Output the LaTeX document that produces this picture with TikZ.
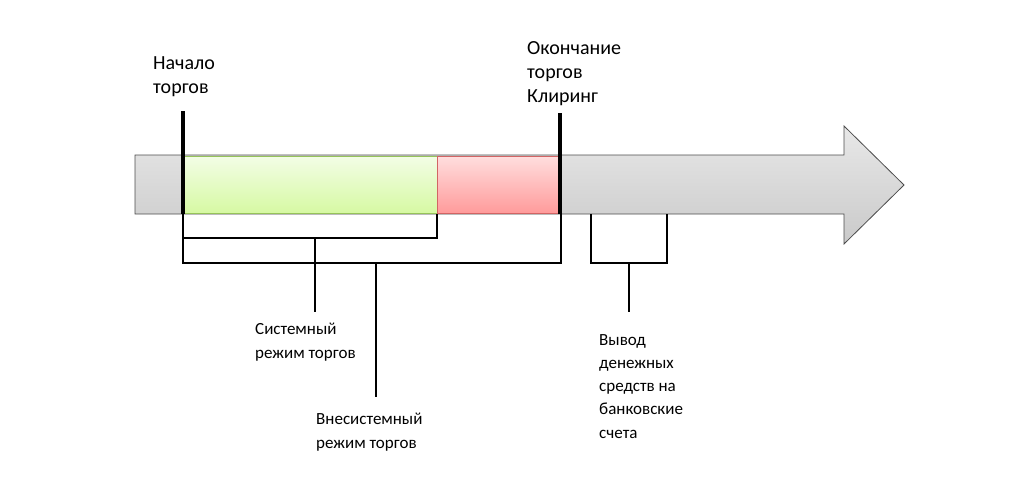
\documentclass[tikz,border=0pt]{standalone}
\usepackage{fontspec}
\setmainfont{Carlito}
\begin{document}
\begin{tikzpicture}[x=1pt,y=-1pt,
        lbl/.style={font=\fontsize{17}{23.2}\selectfont, align=left, anchor=base west, inner sep=0pt},
        big/.style={lbl, font=\fontsize{20}{24}\selectfont},
        brk/.style={line width=1.3pt},
        tick/.style={line width=4pt}]
        \useasboundingbox (0,0) rectangle (1015,477);
        % time arrow
        \shade[top color=gray!18, bottom color=gray!42, draw=gray!60!black, line width=0.8pt]
          (135,155) -- (844,155) -- (844,126) -- (904,185) -- (844,244) -- (844,214) -- (135,214) -- cycle;
        \shade[top color={rgb,255:red,243;green,253;blue,230}, bottom color={rgb,255:red,214;green,249;blue,163},
          draw={rgb,255:red,150;green,195;blue,90}, line width=0.8pt] (183,156) rectangle (437,213);
        \shade[top color={rgb,255:red,255;green,222;blue,222}, bottom color={rgb,255:red,255;green,155;blue,155},
          draw={rgb,255:red,210;green,100;blue,100}, line width=0.8pt] (437,156) rectangle (560,213);
        % labels (anchored at the last line)
        \node[big](start) at (153,93) {Начало\\торгов};
        \node[big](stop) at (527,102) {Окончание\\торгов\\Клиринг};
        \node[lbl](sys) at (255,358) {Системный\\режим торгов};
        \node[lbl](nonsys) at (316,448) {Внесистемный\\режим торгов};
        \node[lbl](out) at (599,438) {Вывод\\денежных\\средств на\\банковские\\счета};
        % brackets
        \coordinate(a1) at (183,214);
        \coordinate(a2) at (437,214);
        \coordinate(b2) at (561,214);
        \coordinate(c1) at (591,214);
        \coordinate(c2) at (667,214);
        \coordinate(m1) at (315,238);
        \coordinate(m2) at (376,263);
        \coordinate(m3) at (629,263);
        \coordinate(e1) at (315,312);
        \coordinate(e2) at (376,397);
        \coordinate(e3) at (629,312);
        \draw[brk](a1)--(a1 |- m1)--(a2 |- m1)--(a2);
        \draw[brk](a1)--(a1 |- m2)--(b2 |- m2)--(b2);
        \draw[brk](c1)--(c1 |- m3)--(c2 |- m3)--(c2);
        \draw[brk](m1)--(e1);
        \draw[brk](m2)--(e2);
        \draw[brk](m3)--(e3);
        % session bounds
        \coordinate(t1) at (183,111);
        \coordinate(t2) at (560,113);
        \draw[tick](t1)--(a1);
        \draw[tick](t2)--(t2 |- a1);
        \end{tikzpicture}
\end{document}
